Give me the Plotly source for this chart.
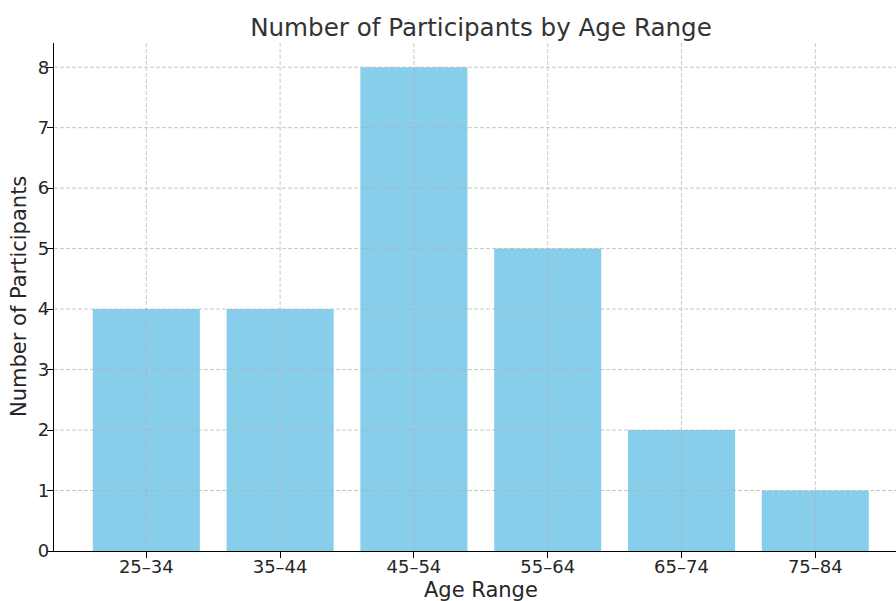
import plotly.graph_objects as go

categories = ["25–34", "35–44", "45–54", "55–64", "65–74", "75–84"]
participants = [4, 4, 8, 5, 2, 1]
y_ticks = [0, 1, 2, 3, 4, 5, 6, 7, 8]

BAR_COLOR = "#87CEEB"
GRID = "rgba(176,176,176,0.7)"
TEXT = "#262626"
FONT = "DejaVu Sans"

x_idx = list(range(len(categories)))

fig = go.Figure(go.Bar(
    x=x_idx, y=participants, width=0.8,
    marker=dict(color=BAR_COLOR, line=dict(width=0)),
))

shapes = []
for v in y_ticks[1:]:
    shapes.append(dict(type="line", xref="paper", x0=0, x1=1, yref="y", y0=v, y1=v,
                       line=dict(color=GRID, width=1, dash="4px,2px"), layer="above"))
for i in x_idx:
    shapes.append(dict(type="line", yref="paper", y0=0, y1=1, xref="x", x0=i, x1=i,
                       line=dict(color=GRID, width=1, dash="4px,2px"), layer="above"))

fig.update_layout(
    width=896, height=601,
    margin=dict(l=54, r=0, t=43, b=50),
    plot_bgcolor="white", paper_bgcolor="white",
    font=dict(family=FONT, color=TEXT, size=18),
    showlegend=False,
    bargap=0.2,
    shapes=shapes,
    title=dict(text="Number of Participants by Age Range", x=(481 - 54) / 842, xref="paper",
               xanchor="center", y=1 - 27 / 601, yref="container", yanchor="middle",
               font=dict(family=FONT, size=24.6, color="#333333")),
    annotations=[
        dict(text="Age Range", xref="paper", yref="paper", x=(481 - 54) / 842, y=-39 / 508,
             xanchor="center", yanchor="middle", showarrow=False,
             font=dict(family=FONT, size=21, color=TEXT)),
        dict(text="Number of Participants", xref="paper", yref="paper", x=-35 / 842,
             y=0.5, xanchor="center", yanchor="middle", textangle=-90, showarrow=False,
             font=dict(family=FONT, size=21, color=TEXT)),
    ],
)
fig.update_xaxes(
    range=[-0.69, 5.603], tickmode="array", tickvals=x_idx, ticktext=categories,
    showgrid=False, zeroline=False, showline=True, linecolor="black", linewidth=1.4,
    ticks="outside", ticklen=6, tickwidth=1.4, tickcolor="black", ticklabelstandoff=-7,
)
fig.update_yaxes(
    range=[0, 8.4], tickmode="array", tickvals=y_ticks,
    showgrid=False, zeroline=False, showline=True, linecolor="black", linewidth=1.4,
    ticks="outside", ticklen=6, tickwidth=1.4, tickcolor="black", ticklabelstandoff=-6,
)

fig.write_html("out.html", config={"displayModeBar": False},
               post_script="document.body.style.margin='0px';")
